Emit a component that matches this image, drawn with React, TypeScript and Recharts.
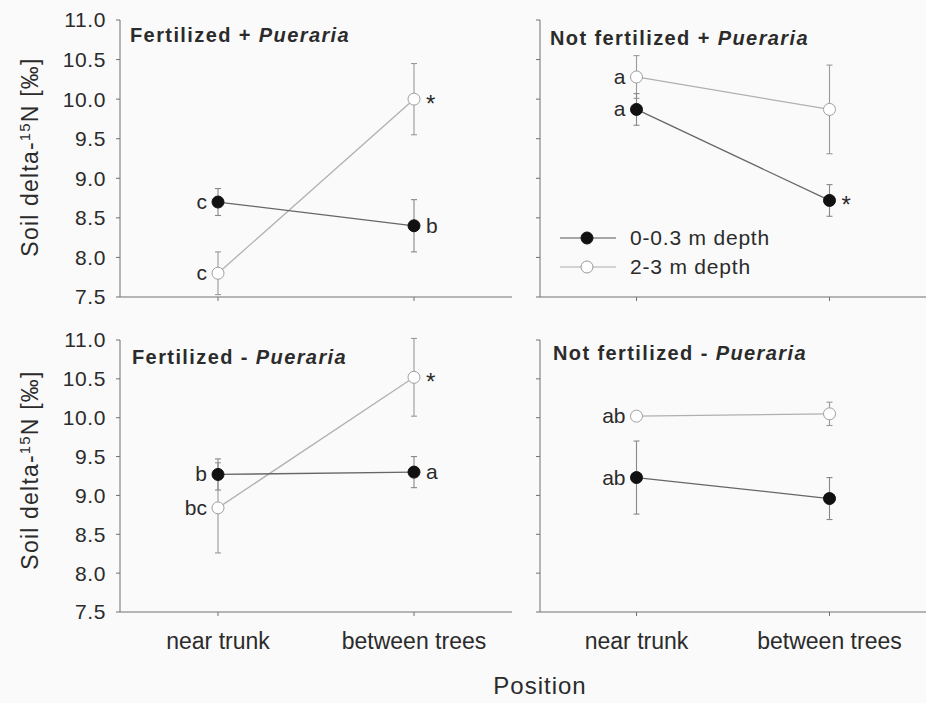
import React from 'react'
import { LineChart, Line, XAxis, YAxis, ErrorBar, LabelList, Legend } from 'recharts'

const POSITIONS = ['near trunk', 'between trees']
const Y_TICKS = [7.5, 8.0, 8.5, 9.0, 9.5, 10.0, 10.5, 11.0]
const DEPTHS = ['0-0.3 m depth', '2-3 m depth']

// Fertilized + Pueraria
const FP_TOP = [8.7, 8.4]
const FP_TOP_SE = [0.17, 0.33]
const FP_TOP_LAB = ['c', 'b']
const FP_DEEP = [7.8, 10.0]
const FP_DEEP_SE = [0.27, 0.45]
const FP_DEEP_LAB = ['c', '*']

// Not fertilized + Pueraria
const NP_TOP = [9.87, 8.72]
const NP_TOP_SE = [0.2, 0.2]
const NP_TOP_LAB = ['a', '*']
const NP_DEEP = [10.28, 9.87]
const NP_DEEP_SE = [0.27, 0.56]
const NP_DEEP_LAB = ['a', '']

// Fertilized - Pueraria
const FN_TOP = [9.27, 9.3]
const FN_TOP_SE = [0.2, 0.2]
const FN_TOP_LAB = ['b', 'a']
const FN_DEEP = [8.84, 10.52]
const FN_DEEP_SE = [0.58, 0.5]
const FN_DEEP_LAB = ['bc', '*']

// Not fertilized - Pueraria
const NN_TOP = [9.23, 8.96]
const NN_TOP_SE = [0.47, 0.27]
const NN_TOP_LAB = ['ab', '']
const NN_DEEP = [10.02, 10.05]
const NN_DEEP_SE = [0.03, 0.15]
const NN_DEEP_LAB = ['ab', '']

const FONT = '"Liberation Sans", Arial, sans-serif'
const TEXT = '#2b2b2b'
const AXIS = '#707070'

const rows = (top: number[], topSe: number[], topLab: string[], deep: number[], deepSe: number[], deepLab: string[]) =>
  POSITIONS.map((pos, i) => ({
    pos,
    top: top[i], topSe: topSe[i], topLab: topLab[i],
    deep: deep[i], deepSe: deepSe[i], deepLab: deepLab[i],
  }))

const letter = (props: any) => {
  const { x, y, value, index } = props
  if (!value) return null
  const right = index === 1
  const star = value === '*'
  return (
    <text x={right ? x + 12 : x - 11} y={y} dy={star ? 13 : 7} textAnchor={right ? 'start' : 'end'}
      fontSize={star ? 24 : 21} fill={TEXT} fontFamily={FONT}>{value}</text>
  )
}

const legendContent = () => (
  <div style={{ fontFamily: FONT, color: TEXT }}>
    {DEPTHS.map((d, i) => (
      <div key={d} style={{ display: 'flex', alignItems: 'center', height: 29 }}>
        <svg width={56} height={16}>
          <line x1={0} y1={8} x2={56} y2={8} stroke={i ? '#aaa' : '#555'} strokeWidth={1.2} />
          <circle cx={27} cy={8} r={6} fill={i ? '#fff' : '#111'} stroke={i ? '#999' : '#111'} />
        </svg>
        <span style={{ marginLeft: 14, fontSize: 21, letterSpacing: 0.8 }}>{d}</span>
      </div>
    ))}
  </div>
)

type PanelProps = {
  data: any[]
  left: number
  top: number
  showY: boolean
  showX: boolean
  legend?: boolean
}

function Panel({ data, left, top, showY, showX, legend }: PanelProps) {
  const width = showY ? 512 : 406
  const height = showX ? 383 : 320
  return (
    <div style={{ position: 'absolute', left, top }}>
      <LineChart width={width} height={height} data={data}
        margin={{ top: 20, right: 0, left: 0, bottom: showX ? 41 : 0 }}>
        <XAxis dataKey="pos" scale="band" height={showX ? 50 : 23} stroke={AXIS} tickSize={4} tickMargin={17}
          tick={{ fontSize: 23, fill: TEXT, fontFamily: FONT }}
          tickFormatter={(v: string) => (showX ? v : '')} />
        <YAxis type="number" domain={[7.5, 11]} ticks={Y_TICKS} allowDataOverflow
          width={showY ? 120 : 20} stroke={AXIS} tickSize={4} tickMargin={10}
          tick={{ fontSize: 21, fill: TEXT, fontFamily: FONT, letterSpacing: 0.6 }}
          tickFormatter={(v: number) => (showY ? v.toFixed(1) : '')} />
        <Line dataKey="deep" stroke="#b0b0b0" strokeWidth={1.3} isAnimationActive={false}
          dot={{ r: 6, fill: '#fff', stroke: '#a0a0a0', strokeWidth: 1 }} activeDot={false}>
          <ErrorBar dataKey="deepSe" width={3} stroke="#999" strokeWidth={1.1} />
          <LabelList dataKey="deepLab" content={letter} />
        </Line>
        <Line dataKey="top" stroke="#666" strokeWidth={1.3} isAnimationActive={false}
          dot={{ r: 6, fill: '#111', stroke: '#111', strokeWidth: 1 }} activeDot={false}>
          <ErrorBar dataKey="topSe" width={3} stroke="#888" strokeWidth={1.1} />
          <LabelList dataKey="topLab" content={letter} />
        </Line>
        {legend && (
          <Legend layout="vertical" align="center" verticalAlign="middle"
            wrapperStyle={{ left: 40, top: 223, width: 'auto' }} content={legendContent} />
        )}
      </LineChart>
    </div>
  )
}

const Title = ({ x, y, main, sign }: { x: number; y: number; main: string; sign: string }) => (
  <div style={{ position: 'absolute', left: x, top: y, transform: 'translateY(-50%)', fontSize: 20,
    fontWeight: 'bold', letterSpacing: 1.4, whiteSpace: 'nowrap', lineHeight: 1 }}>
    {main} {sign} <i>Pueraria</i>
  </div>
)

const YLabel = ({ cy }: { cy: number }) => (
  <div style={{ position: 'absolute', left: 30, top: cy, transform: 'translate(-50%, -50%) rotate(-90deg)',
    fontSize: 23, letterSpacing: 1.2, whiteSpace: 'nowrap', lineHeight: 1 }}>
    Soil delta-<sup style={{ fontSize: '0.65em' }}>15</sup>N [‰]
  </div>
)

export default function App() {
  return (
    <div style={{ position: 'absolute', left: 0, top: 0, width: 926, height: 703, background: '#fafafa',
      fontFamily: FONT, color: TEXT, overflow: 'hidden' }}>
      <Panel data={rows(FP_TOP, FP_TOP_SE, FP_TOP_LAB, FP_DEEP, FP_DEEP_SE, FP_DEEP_LAB)} left={0} top={0} showY showX={false} />
      <Panel data={rows(NP_TOP, NP_TOP_SE, NP_TOP_LAB, NP_DEEP, NP_DEEP_SE, NP_DEEP_LAB)} left={520} top={0} showY={false} showX={false} legend />
      <Panel data={rows(FN_TOP, FN_TOP_SE, FN_TOP_LAB, FN_DEEP, FN_DEEP_SE, FN_DEEP_LAB)} left={0} top={320} showY showX />
      <Panel data={rows(NN_TOP, NN_TOP_SE, NN_TOP_LAB, NN_DEEP, NN_DEEP_SE, NN_DEEP_LAB)} left={520} top={320} showY={false} showX />
      <Title x={130} y={35} main="Fertilized" sign="+" />
      <Title x={550} y={38} main="Not fertilized" sign="+" />
      <Title x={132} y={357} main="Fertilized" sign="-" />
      <Title x={553} y={353} main="Not fertilized" sign="-" />
      <YLabel cy={157} />
      <YLabel cy={470} />
      <div style={{ position: 'absolute', left: 540, top: 686, transform: 'translate(-50%, -50%)', fontSize: 24,
        letterSpacing: 1, lineHeight: 1.1 }}>Position</div>
    </div>
  )
}
